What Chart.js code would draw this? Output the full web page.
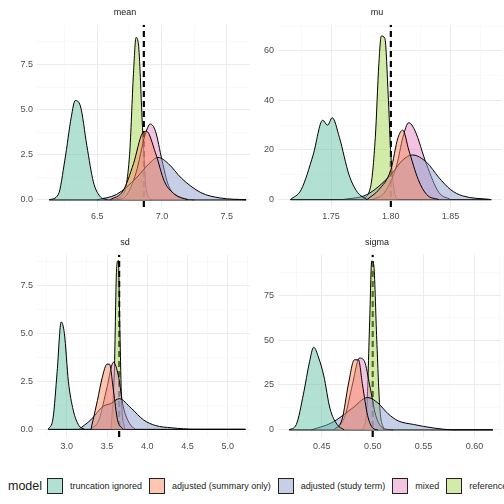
<!DOCTYPE html>
<html>
<head>
<meta charset="utf-8">
<script src="https://cdn.jsdelivr.net/npm/chart.js@4"></script>
<style>
  body { margin: 0; background: #fff; font-family: "Liberation Sans", Arial, sans-serif; }
  #wrap { position: relative; width: 504px; height: 504px; overflow: hidden; }
  .panel { position: absolute; width: 252px; height: 230px; }
  #legend { position: absolute; left: 8px; top: 478px; white-space: nowrap; display: flex; align-items: center; font-size: 9px; color: #1a1a1a; }
  #legend .ttl { font-size: 12.5px; margin-right: 5px; }
  #legend .key { width: 16px; height: 16px; border: 1px solid #222; margin-right: 7px; box-sizing: border-box; }
  #legend .lab { margin-right: 7px; }
</style>
</head>
<body>
<div id="wrap">
  <div class="panel" style="left:0;top:0"><canvas id="c0"></canvas></div>
  <div class="panel" style="left:252px;top:0"><canvas id="c1"></canvas></div>
  <div class="panel" style="left:0;top:230px"><canvas id="c2"></canvas></div>
  <div class="panel" style="left:252px;top:230px"><canvas id="c3"></canvas></div>
  <div id="legend"></div>
</div>
<script>
// models and colours (Set2)
const models = ['truncation ignored', 'adjusted (summary only)', 'adjusted (study term)', 'mixed', 'reference (marginal)'];
const colors = ['102,194,165', '252,141,98', '141,160,203', '231,138,195', '166,216,84'];

const panels = ['mean', 'mu', 'sd', 'sigma'];
const refValues = [6.86, 1.80, 3.65, 0.50];

// density curves, x / y pairs per model
const meanX = [
  [6.13, 6.2, 6.25, 6.3, 6.33, 6.37, 6.42, 6.47, 6.52, 6.58],
  [6.6, 6.7, 6.78, 6.85, 6.88, 6.95, 7.02, 7.1, 7.2],
  [6.5, 6.65, 6.8, 6.9, 6.97, 7.05, 7.15, 7.3, 7.45, 7.65],
  [6.65, 6.72, 6.8, 6.87, 6.91, 6.95, 7.0, 7.05, 7.15, 7.25],
  [6.6, 6.7, 6.75, 6.78, 6.8, 6.82, 6.85, 6.88, 6.92]
];
const meanY = [
  [0, 0.3, 2.2, 4.6, 5.5, 5.2, 3.0, 1.0, 0.2, 0],
  [0, 0.5, 2.0, 3.7, 3.8, 2.6, 1.0, 0.3, 0],
  [0, 0.3, 1.2, 2.0, 2.35, 2.0, 1.2, 0.4, 0.1, 0],
  [0, 0.2, 1.5, 3.6, 4.2, 3.8, 2.2, 0.8, 0.1, 0],
  [0, 0.3, 2.5, 7.0, 9.0, 8.5, 4.0, 0.5, 0]
];
const muX = [
  [1.716, 1.725, 1.735, 1.743, 1.747, 1.751, 1.757, 1.765, 1.772, 1.78],
  [1.78, 1.79, 1.8, 1.806, 1.81, 1.815, 1.823, 1.83, 1.84],
  [1.76, 1.78, 1.8, 1.81, 1.818, 1.83, 1.84, 1.85, 1.86, 1.884],
  [1.785, 1.795, 1.805, 1.81, 1.815, 1.82, 1.83, 1.84, 1.85],
  [1.776, 1.783, 1.787, 1.79, 1.792, 1.795, 1.798, 1.8, 1.803, 1.806]
];
const muY = [
  [0, 4, 18, 32, 30, 33, 25, 10, 3, 0],
  [0, 4, 12, 25, 28, 20, 8, 2, 0],
  [0, 2, 10, 16, 18, 15, 9, 4, 1.5, 0],
  [0, 3, 14, 25, 31, 28, 14, 3, 0],
  [0, 5, 25, 55, 66, 65, 40, 18, 3, 0]
];
const sdX = [
  [2.77, 2.83, 2.88, 2.93, 2.97, 3.02, 3.08, 3.15, 3.22],
  [3.3, 3.38, 3.44, 3.5, 3.53, 3.58, 3.63, 3.7],
  [3.15, 3.3, 3.45, 3.55, 3.65, 3.8, 3.95, 4.1, 4.3, 4.6, 5.22],
  [3.3, 3.4, 3.5, 3.58, 3.64, 3.7, 3.78, 3.85],
  [3.55, 3.59, 3.62, 3.64, 3.66, 3.68, 3.72]
];
const sdY = [
  [0, 0.6, 3.0, 5.6, 5.0, 2.5, 1.0, 0.2, 0],
  [0, 1.5, 2.7, 3.4, 3.4, 2.0, 0.5, 0],
  [0, 0.5, 1.2, 1.35, 1.6, 1.1, 0.5, 0.2, 0.08, 0, 0],
  [0, 0.5, 2.2, 3.5, 2.8, 1.2, 0.3, 0],
  [0, 3.0, 8.5, 8.8, 5.0, 1.5, 0]
];
const sigmaX = [
  [0.418, 0.425, 0.432, 0.438, 0.442, 0.447, 0.452, 0.458, 0.465, 0.472],
  [0.462, 0.47, 0.476, 0.482, 0.486, 0.49, 0.495, 0.5, 0.505],
  [0.44, 0.46, 0.48, 0.495, 0.505, 0.515, 0.525, 0.54, 0.56, 0.58, 0.618],
  [0.465, 0.473, 0.48, 0.487, 0.492, 0.497, 0.503, 0.51, 0.52],
  [0.49, 0.494, 0.497, 0.499, 0.501, 0.504, 0.507, 0.511]
];
const sigmaY = [
  [0, 3, 20, 38, 46, 40, 30, 12, 3, 0],
  [0, 6, 25, 39, 39, 25, 8, 1, 0],
  [0, 4, 12, 18, 15, 9, 5, 3, 1, 0, 0],
  [0, 8, 25, 40, 38, 25, 8, 1, 0],
  [0, 10, 60, 94, 92, 50, 12, 0]
];

// axis tick labels
const xTicks = [[6.5, 7.0, 7.5], [1.75, 1.80, 1.85], [3.0, 3.5, 4.0, 4.5, 5.0], [0.45, 0.50, 0.55, 0.60]];
const yTicks = [[0, 2.5, 5.0, 7.5], [0, 20, 40, 60], [0, 2.5, 5.0, 7.5], [0, 25, 50, 75]];
const xDigits = [1, 2, 1, 2];

const allX = [meanX, muX, sdX, sigmaX];
const allY = [meanY, muY, sdY, sigmaY];
const xRange = [[6.035, 7.68], [1.7056, 1.893], [2.63, 5.27], [0.407, 0.626]];
const yRange = [[-0.4, 9.7], [-3, 70.5], [-0.4, 9.1], [-4, 97.5]];
const yAxisW = [37, 26, 37, 26];

function withMinor(t) {
  const out = [];
  for (let i = 0; i < t.length; i++) {
    out.push({ value: t[i], major: true });
    if (i < t.length - 1) out.push({ value: (t[i] + t[i + 1]) / 2, major: false });
  }
  out.unshift({ value: t[0] - (t[1] - t[0]) / 2, major: false });
  out.push({ value: t[t.length - 1] + (t[1] - t[0]) / 2, major: false });
  return out;
}

panels.forEach((name, p) => {
  const xs = allX[p], ys = allY[p];
  const datasets = models.map((m, i) => ({
    label: m,
    data: xs[i].map((x, k) => ({ x: x, y: ys[i][k] })),
    fill: 'origin',
    backgroundColor: 'rgba(' + colors[i] + ',0.5)',
    borderColor: '#000',
    borderWidth: 1,
    tension: 0.4,
    cubicInterpolationMode: 'monotone',
    pointRadius: 0
  }));
  const flat = xs.flat();
  datasets.push({
    label: 'base',
    data: [{ x: Math.min(...flat), y: 0 }, { x: Math.max(...flat), y: 0 }],
    borderColor: '#000', borderWidth: 1.2, pointRadius: 0, fill: false
  });
  datasets.push({
    label: 'ref',
    data: [{ x: refValues[p], y: yRange[p][0] }, { x: refValues[p], y: yRange[p][1] }],
    borderColor: '#000', borderWidth: 2.2, borderDash: [6, 4], pointRadius: 0, fill: false
  });

  new Chart(document.getElementById('c' + p), {
    type: 'line',
    data: { datasets: datasets },
    options: {
      animation: false,
      responsive: true,
      maintainAspectRatio: false,
      layout: { padding: { right: 2, top: 0 } },
      plugins: {
        legend: { display: false },
        tooltip: { enabled: false },
        title: {
          display: true, text: name, color: '#1a1a1a',
          font: { family: 'Liberation Sans', size: 9, weight: 'normal' }, padding: { top: 7, bottom: 7 }
        }
      },
      scales: {
        x: {
          type: 'linear', min: xRange[p][0], max: xRange[p][1],
          afterBuildTicks: ax => { ax.ticks = withMinor(xTicks[p]).filter(t => t.value >= ax.min && t.value <= ax.max); },
          afterFit: ax => { ax.height = 23; },
          ticks: {
            color: '#4d4d4d', font: { family: 'Liberation Sans', size: 9 }, maxRotation: 0, autoSkip: false, padding: 4,
            callback: function (v, i, t) { return t[i].major ? v.toFixed(xDigits[p]) : ''; }
          },
          grid: {
            drawTicks: false,
            color: c => (c.tick && c.tick.major) ? '#ebebeb' : '#f5f5f5',
            lineWidth: c => (c.tick && c.tick.major) ? 1 : 0.6
          },
          border: { display: false }
        },
        y: {
          min: yRange[p][0], max: yRange[p][1],
          afterBuildTicks: ax => { ax.ticks = withMinor(yTicks[p]).filter(t => t.value >= ax.min && t.value <= ax.max); },
          afterFit: ax => { ax.width = yAxisW[p]; },
          ticks: {
            color: '#4d4d4d', font: { family: 'Liberation Sans', size: 9 }, autoSkip: false, padding: 4,
            callback: function (v, i, t) {
              if (!t[i].major) return '';
              return (p === 1 || p === 3) ? String(v) : v.toFixed(1);
            }
          },
          grid: {
            drawTicks: false,
            color: c => (c.tick && c.tick.major) ? '#ebebeb' : '#f5f5f5',
            lineWidth: c => (c.tick && c.tick.major) ? 1 : 0.6
          },
          border: { display: false }
        }
      }
    }
  });
});

// legend
const lg = document.getElementById('legend');
let html = '<span class="ttl">model</span>';
models.forEach((m, i) => {
  html += '<span class="key" style="background:rgba(' + colors[i] + ',0.5)"></span><span class="lab">' + m + '</span>';
});
lg.innerHTML = html;
</script>
</body>
</html>
